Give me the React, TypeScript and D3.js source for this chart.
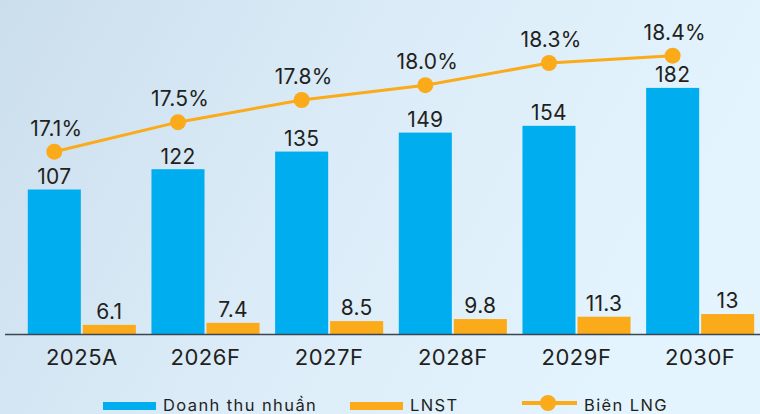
import React from "react";
import * as d3 from "d3";

const categories = ["2025A", "2026F", "2027F", "2028F", "2029F", "2030F"];
const revenue = [107, 122, 135, 149, 154, 182];
const profit = [6.1, 7.4, 8.5, 9.8, 11.3, 13];
const margin = [17.1, 17.5, 17.8, 18.0, 18.3, 18.4];
const seriesNames = ["Doanh thu nhuần", "LNST", "Biên LNG"];

const W = 760;
const H = 414;
const BLUE = "#00AEEF";
const ORANGE = "#FBAA19";
const TEXT = "#231f20";
const FONT = "Inter, 'Open Sans', sans-serif";

export default function App() {
  const baseY = 334.5;
  const x = d3.scaleBand<string>().domain(categories).range([20, 762]).paddingInner(0.126).paddingOuter(0.063);
  const inner = d3.scaleBand<string>().domain(["rev", "lnst"]).range([0, x.bandwidth()]).paddingInner(0.036);
  const yRev = d3.scaleLinear().domain([0, 200]).range([baseY, baseY - 271]);
  const yLnst = d3.scaleLinear().domain([0, 20]).range([baseY, baseY - 31.5]);
  const yMargin = d3.scaleLinear().domain([17, 18.5]).range([159.1, 48.25]);

  const px = (c: string) => (x(c) as number) + (inner("rev") as number) + inner.bandwidth() / 2;
  const linePts: [number, number][] = categories.map((c, i) => [px(c), yMargin(margin[i])]);
  const line = d3.line();

  return (
    <svg width={W} height={H} style={{ display: "block", position: "absolute", left: 0, top: 0 }}>
      <defs>
        <linearGradient id="bg" x1="0" y1="0" x2="1" y2="0.3">
          <stop offset="0" stopColor="#cbdeec" />
          <stop offset="0.5" stopColor="#dbecf8" />
          <stop offset="1" stopColor="#e3f4fe" />
        </linearGradient>
      </defs>
      <rect x={0} y={0} width={W} height={H} fill="url(#bg)" />

      <g fontFamily={FONT} fontWeight={400} fill={TEXT}>
        {categories.map((c, i) => {
          const gx = x(c) as number;
          const rx = gx + (inner("rev") as number);
          const lx = gx + (inner("lnst") as number);
          const bw = inner.bandwidth();
          return (
            <g key={c}>
              <rect x={rx} y={yRev(revenue[i])} width={bw} height={baseY - yRev(revenue[i])} fill={BLUE} />
              <rect x={lx} y={yLnst(profit[i])} width={bw} height={baseY - yLnst(profit[i])} fill={ORANGE} />
              <text x={rx + bw / 2} y={yRev(revenue[i]) - 5.5} textAnchor="middle" fontSize={21} letterSpacing={0.3}>
                {revenue[i]}
              </text>
              <text x={lx + bw / 2} y={yLnst(profit[i]) - 6} textAnchor="middle" fontSize={21} letterSpacing={0.3}>
                {profit[i]}
              </text>
              <text x={gx + x.bandwidth() / 2} y={365} textAnchor="middle" fontSize={22} letterSpacing={0.5}>
                {c}
              </text>
            </g>
          );
        })}
      </g>

      <line x1={5} x2={W} y1={baseY} y2={baseY} stroke="#3b4650" strokeWidth={1.5} />

      <path d={line(linePts) || ""} fill="none" stroke={ORANGE} strokeWidth={3} />
      <g fontFamily={FONT} fontWeight={400} fill={TEXT}>
        {linePts.map((p, i) => (
          <g key={i}>
            <circle cx={p[0]} cy={p[1]} r={8} fill={ORANGE} />
            <text x={p[0] + 2} y={p[1] - 16} textAnchor="middle" fontSize={21} letterSpacing={0.2}>
              {margin[i].toFixed(1)}%
            </text>
          </g>
        ))}
      </g>

      <g fontFamily={FONT} fontWeight={400} fontSize={16.5} fill={TEXT} letterSpacing={1.4}>
        <rect x={103} y={402} width={53} height={8} fill={BLUE} />
        <text x={163} y={411}>{seriesNames[0]}</text>
        <rect x={350} y={402} width={53} height={8} fill={ORANGE} />
        <text x={410} y={411}>{seriesNames[1]}</text>
        <line x1={522} x2={577} y1={403} y2={403} stroke={ORANGE} strokeWidth={4} />
        <circle cx={548} cy={403} r={8} fill={ORANGE} />
        <text x={584} y={411}>{seriesNames[2]}</text>
      </g>
    </svg>
  );
}
